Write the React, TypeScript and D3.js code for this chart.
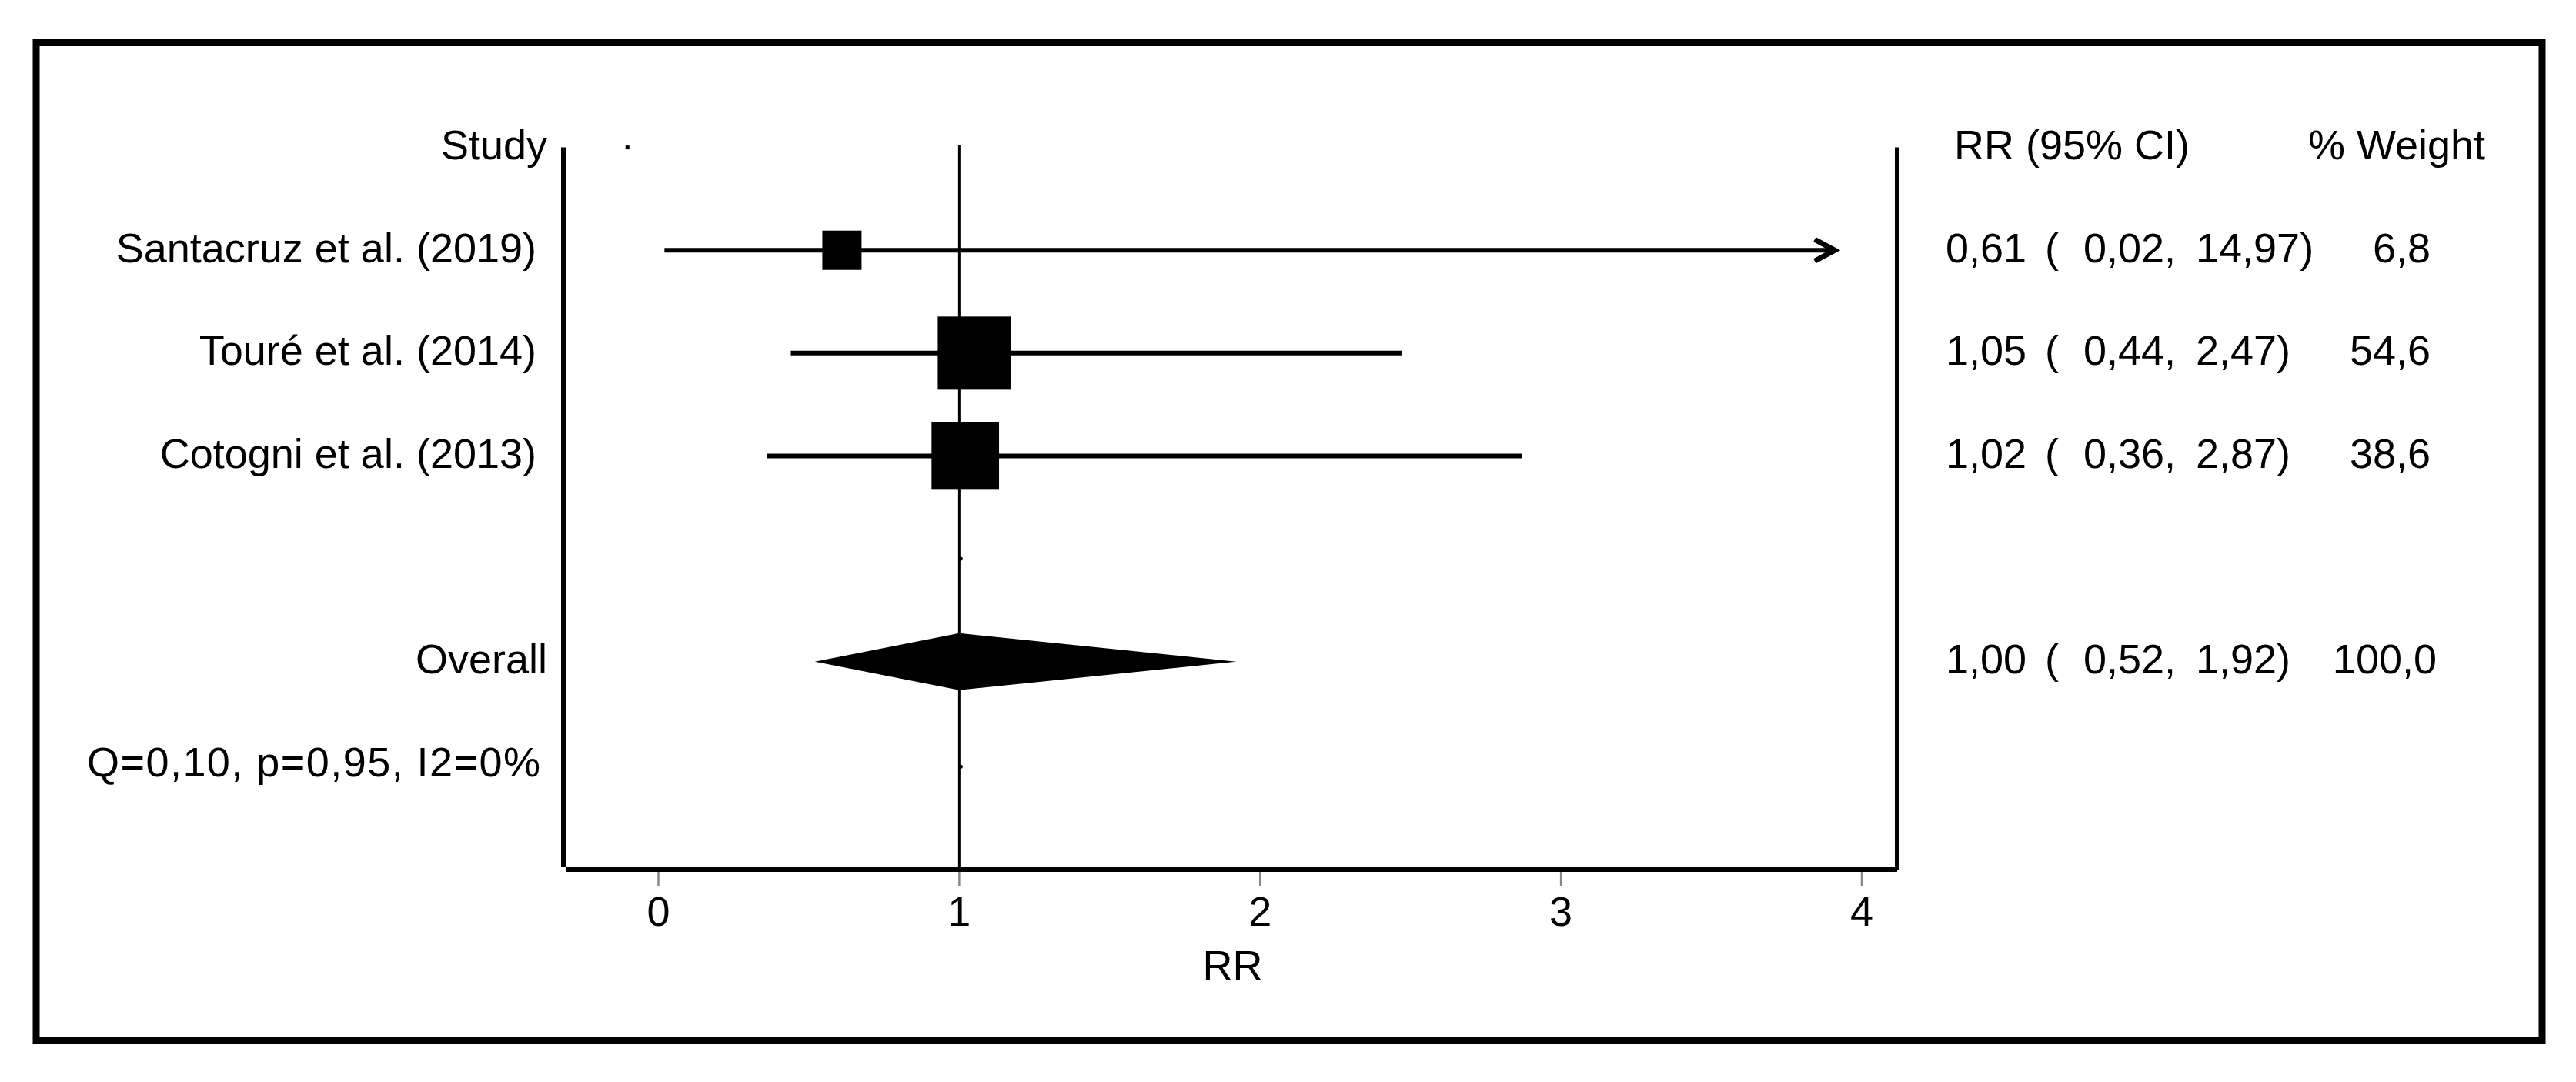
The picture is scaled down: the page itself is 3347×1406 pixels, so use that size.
import React from "react";
import * as d3 from "d3";

// ---------- data ----------
const studies = ["Santacruz et al. (2019)", "Touré et al. (2014)", "Cotogni et al. (2013)"];
const rr = [0.61, 1.05, 1.02];
const ciLow = [0.02, 0.44, 0.36];
const ciHigh = [14.97, 2.47, 2.87];
const weights = [6.8, 54.6, 38.6];

const overallLabel = "Overall";
const overallRR = 1.0;
const overallLow = 0.52;
const overallHigh = 1.92;
const overallWeight = 100.0;

const heterogeneity = "Q=0,10, p=0,95, I2=0%";
const xTicks = [0, 1, 2, 3, 4];
const xTitle = "RR";
const headerStudy = "Study";
const headerCI = "RR (95% CI)";
const headerWeight = "% Weight";
const nullValue = 1;
const clipMax = 3.91; // display clip for CIs beyond the axis
const headerMarkValue = -0.103; // stray marker of the header row

// ---------- layout ----------
const W = 3347;
const H = 1406;
const FONT = "'Liberation Sans', Arial, Helvetica, sans-serif";
const FS = 54;

const fmt2 = (v: number) => d3.format(".2f")(v).replace(".", ",");
const fmt1 = (v: number) => d3.format(".1f")(v).replace(".", ",");

export default function App() {
  const x = d3.scaleLinear().domain([0, 4]).range([855.5, 2419]);
  const row = d3.scaleLinear().domain([0, 7]).range([191.6, 1127]);
  const [wMin, wMax] = d3.extent(weights) as [number, number];
  const boxSize = d3.scaleLog().domain([wMin, wMax]).range([51, 95]);

  const axisLeft = 732;
  const axisRight = 2465;
  const axisTop = 191.6;
  const axisBottom = 1130;
  const textDy = 15.5;

  const colEst = 2528;
  const colParen = 2657;
  const colLo = 2707;
  const colHi = 2853;
  const colWeightEnd = 3158;

  const yOverall = row(5);
  const diamond = d3.line()([
    [x(overallLow), yOverall],
    [x(overallRR), yOverall - 37],
    [x(overallHigh), yOverall],
    [x(overallRR), yOverall + 37],
  ]) + "Z";

  const ciText = (est: number, lo: number, hi: number, y: number, key: string) => (
    <g key={key} fontFamily={FONT} fontSize={FS} fill="#000">
      <text x={colEst} y={y + textDy}>{fmt2(est)}</text>
      <text x={colParen} y={y + textDy}>(</text>
      <text x={colLo} y={y + textDy}>{fmt2(lo) + ","}</text>
      <text x={colHi} y={y + textDy}>{fmt2(hi) + ")"}</text>
    </g>
  );

  return (
    <svg
      width={W}
      height={H}
      viewBox={`0 0 ${W} ${H}`}
      style={{ position: "absolute", left: 0, top: 0, display: "block", background: "#fff" }}
    >
      <rect x={0} y={0} width={W} height={H} fill="#fff" />
      {/* outer frame */}
      <rect x={47} y={55.5} width={3256} height={1296.5} fill="none" stroke="#000" strokeWidth={9} />

      {/* axes */}
      <line x1={axisLeft} x2={axisLeft} y1={axisTop} y2={axisBottom - 3} stroke="#000" strokeWidth={6} />
      <line x1={axisRight} x2={axisRight} y1={axisTop} y2={axisBottom} stroke="#000" strokeWidth={6} />
      <line x1={axisLeft + 3} x2={axisRight} y1={axisBottom} y2={axisBottom} stroke="#000" strokeWidth={6} />

      {/* null line */}
      <line x1={x(nullValue)} x2={x(nullValue)} y1={188} y2={axisBottom} stroke="#000" strokeWidth={3} />
      <circle cx={x(nullValue) + 2} cy={row(4)} r={2.5} fill="#000" />
      <circle cx={x(nullValue) + 2} cy={row(6) + 3} r={2.5} fill="#000" />
      <rect x={x(headerMarkValue) - 2.5} y={row(0) - 2.5} width={5} height={5} fill="#000" />

      {/* ticks */}
      {xTicks.map((t) => (
        <g key={t}>
          <line x1={x(t)} x2={x(t)} y1={axisBottom + 3} y2={1151} stroke="#888" strokeWidth={2.5} />
          <text x={x(t)} y={1203} textAnchor="middle" fontFamily={FONT} fontSize={FS} fill="#000">
            {t}
          </text>
        </g>
      ))}
      <text x={(axisLeft + axisRight) / 2 + 3} y={1273} textAnchor="middle" fontFamily={FONT} fontSize={FS} fill="#000">
        {xTitle}
      </text>

      {/* headers */}
      <text x={711} y={row(0) + textDy} textAnchor="end" fontFamily={FONT} fontSize={FS}>
        {headerStudy}
      </text>
      <text x={2539} y={row(0) + textDy} fontFamily={FONT} fontSize={FS}>
        {headerCI}
      </text>
      <text x={2999} y={row(0) + textDy} fontFamily={FONT} fontSize={FS}>
        {headerWeight}
      </text>

      {/* studies */}
      {studies.map((s, i) => {
        const y = row(i + 1);
        const clipped = ciHigh[i] > clipMax;
        const xHi = x(Math.min(ciHigh[i], clipMax));
        const size = boxSize(weights[i]);
        return (
          <g key={s}>
            <text x={697} y={y + textDy} textAnchor="end" fontFamily={FONT} fontSize={FS}>
              {s}
            </text>
            <line x1={x(ciLow[i])} x2={clipped ? xHi - 4 : xHi} y1={y} y2={y} stroke="#000" strokeWidth={6} />
            {clipped && (
              <path
                d={`M${xHi - 26},${y - 14}L${xHi},${y}L${xHi - 26},${y + 14}`}
                fill="none"
                stroke="#000"
                strokeWidth={7}
                strokeLinejoin="miter"
              />
            )}
            <rect x={x(rr[i]) - size / 2} y={y - size / 2} width={size} height={size} fill="#000" />
            {ciText(rr[i], ciLow[i], ciHigh[i], y, "ci" + i)}
            <text x={colWeightEnd} y={y + textDy} textAnchor="end" fontFamily={FONT} fontSize={FS}>
              {fmt1(weights[i])}
            </text>
          </g>
        );
      })}

      {/* overall */}
      <text x={711} y={yOverall + textDy} textAnchor="end" fontFamily={FONT} fontSize={FS}>
        {overallLabel}
      </text>
      <path d={diamond} fill="#000" />
      {ciText(overallRR, overallLow, overallHigh, yOverall, "ov")}
      <text x={colWeightEnd + 8} y={yOverall + textDy} textAnchor="end" fontFamily={FONT} fontSize={FS}>
        {fmt1(overallWeight)}
      </text>

      {/* heterogeneity */}
      <text x={113} y={row(6) + textDy} fontFamily={FONT} fontSize={FS} textLength={589} lengthAdjust="spacing">
        {heterogeneity}
      </text>
    </svg>
  );
}
